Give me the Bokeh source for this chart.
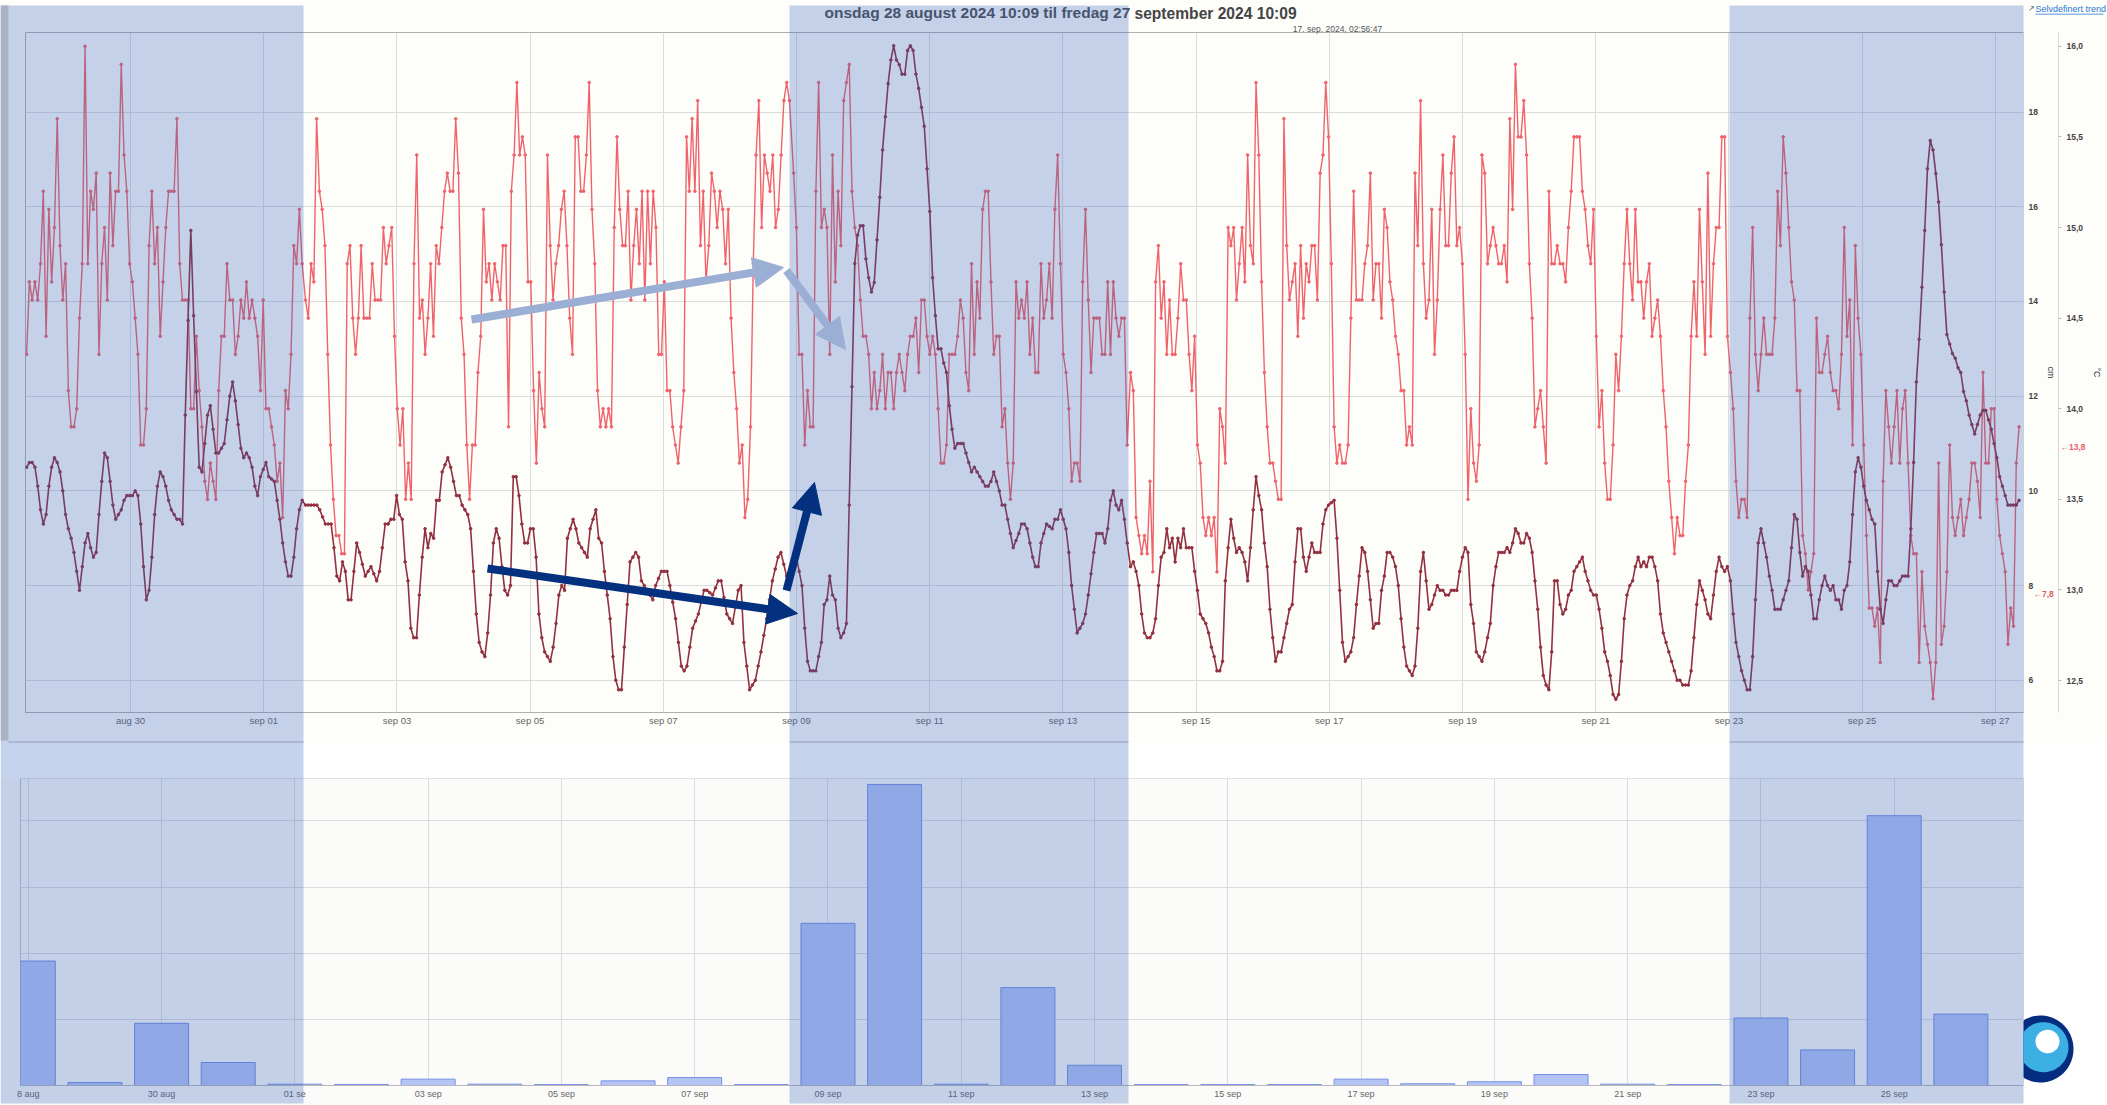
from datetime import datetime, timedelta
import numpy as np
from bokeh.core.properties import value
from bokeh.embed import file_html
from bokeh.models import Arrow, FixedTicker, LinearAxis, NormalHead, Range1d
from bokeh.plotting import figure
from bokeh.resources import INLINE

# ---- water temperature (deg C), hourly, per stretch of the record
TEMP_A = [14.3,14.7,14.6,14.7,14.6,14.8,15.2,14.4,15.1,14.7,15.0,15.6,14.9,14.6,14.8,14.1,13.9,13.9,14.0,14.5,14.8,16.0,14.8,15.2,15.1,15.3,14.3,14.8,15.0,14.6,15.3,14.9,15.2,15.2,15.9,15.4,15.2,14.8,14.7,14.5,14.3,13.8,13.8,14.0,14.9,15.2,14.8,15.0,14.4,14.7,15.0,15.2,15.2,15.2,15.6,14.8,14.6,14.6,14.6,14.0,14.0,14.4,14.1,13.9,13.6,13.5,13.7,13.6,13.5,14.1,14.4,14.4,14.8,14.6,14.6,14.3,14.4,14.6,14.5,14.7,14.5,14.6,14.5,14.4,14.1,14.6,14.0,14.0,13.9,13.8,13.6,13.7,13.4,14.1,14.0,14.3,14.9,14.8,15.1,14.8]
TEMP_B = [14.6,14.5,14.8,14.7,15.6,15.2,15.1,14.9,14.3,13.8,13.5,13.3,13.3,13.2,13.2,14.8,14.9,14.5,14.3,14.5,14.9,14.5,14.5,14.5,14.8,14.6,14.6,14.6,15.0,14.8,14.9,15.0,14.4,14.0,13.8,14.0,13.5,13.7,13.5,14.8,15.4,14.5,14.6,14.3,14.5,14.8,14.4,14.9,14.8,15.0,15.2,15.3,15.2,15.2,15.6,15.3,14.5,14.3,13.8,13.5,13.8,13.8,14.2,14.4,15.1,14.7,14.8,14.6,14.8,14.7,14.6,14.9,14.9,13.9,15.2,15.4,15.8,15.4,15.5,15.4,14.7,14.7,14.1,13.7,14.2,14.0,13.9,15.4,14.9,14.6,14.8,14.9,15.1,15.2,14.9,14.5,14.3,15.5,15.5,15.2,15.2,15.4,15.8,15.1,14.8,14.1,13.9,14.0,13.9,14.0,13.9,15.0,15.5,15.1,14.9,14.9,15.2,14.6,14.9,15.1,14.8,15.2,14.6,15.2,14.8,15.2,15.0,14.3,14.3,14.7,14.1,14.1,13.9,13.8,13.7,13.9,14.1,15.5,15.2,15.6,15.2,15.7,14.9,15.2,14.7,14.9,15.3,15.2,15.0,15.2,15.1,14.8,15.1,14.5,14.2,14.0,13.7,13.8,13.4,13.5,13.9,14.8,15.4,15.7,15.0,15.4,15.3,15.2,15.4,15.0,15.1,15.4,15.7,15.8,15.7]
TEMP_C = [15.3,15.0,14.3,14.3,13.8,14.1,13.9,13.9,15.2,15.8,15.0,15.1,15.0,14.3,15.4,14.7,15.2,14.9,15.7,15.8,15.9,15.2,15.0,14.9,14.6,14.4,14.4,14.3,14.0,14.2,14.0,14.1,14.3,14.0,14.2,14.2,14.0,14.2,14.3,14.2,14.1,14.3,14.4,14.4,14.5,14.2,14.6,14.6,14.4,14.3,14.4,14.3,14.0,13.7,13.7,13.8,14.3,14.3,14.3,14.4,14.6,14.5,14.2,14.1,14.8,14.3,14.7,14.5,15.1,15.2,15.2,14.7,14.3,14.4,14.4,13.9,14.0,13.7,13.5,13.7,14.7,14.5,14.6,14.5,14.7,14.3,14.5,14.2,14.2,14.8,14.5,14.6,14.8,14.5,15.1,15.4,14.8,14.3,14.2,14.0,13.6,13.7,13.7,13.6,14.7,15.1,14.6,14.2,14.5,14.5,14.5,14.3,14.3,14.7,14.3,14.7,14.5,14.4,14.5,14.5,13.8]
TEMP_D = [14.2,14.1,13.4,13.3,13.2,13.3,13.2,13.6,13.1,14.7,14.9,14.5,14.7,14.3,14.6,14.3,14.3,14.5,14.8,14.6,14.6,14.3,14.1,14.4,13.8,13.7,13.4,13.3,13.4,13.3,13.4,13.1,14.0,13.9,13.7,15.0,14.9,15.0,14.6,14.8,15.0,14.7,15.4,14.9,14.8,15.8,15.4,14.7,14.2,13.9,13.7,13.7,13.6,13.5,13.5,15.6,14.9,14.6,14.7,14.8,14.4,14.9,14.5,14.8,14.7,14.9,14.9,14.6,15.3,15.4,15.8,15.5,14.8,13.9,13.7,13.8,13.7,13.7,13.8,14.5,15.2,14.6,14.6,14.6,14.8,14.9,15.3,14.6,14.8,14.8,14.5,15.1,15.0,14.7,14.6,14.4,14.3,14.1,14.1,13.8,13.9,13.8,15.3,14.9,15.7,14.8,14.5,14.6,15.1,14.3,14.6,15.1,15.4,14.9,14.9,15.3,15.5,14.9,15.0,14.8,14.3,13.5,14.0,13.7,13.6,13.8,15.4,15.3,14.8,14.9,15.0,14.9,14.8,14.8,14.9,14.7,15.6,15.1,15.9,15.5,15.5,15.7,15.4,14.8,14.5,13.9,14.0,14.1,13.9,13.7,15.2,14.8,14.8,14.9,14.8,14.8,14.7,15.0,15.2,15.5,15.5,15.5,15.2,15.1,14.9,14.8,15.1,14.4,13.9,14.1,13.7,13.5,13.5,13.8,14.3,14.1,14.4,14.8,15.1,14.8,14.6,15.1,14.7,14.7,14.5,14.7,14.8,14.4,14.5,14.6,14.4,14.1,13.9,13.6,13.4,13.2,13.4,13.3,13.3,13.6,13.8,14.4,14.7,14.4,15.1,14.7,14.3,15.3,14.4,14.8,15.0,15.0,15.5,15.5,14.4]
TEMP_E = [14.2,14.0,13.6,13.4,13.5,13.5,13.4,14.5,15.0,14.3,14.1,14.3,14.5,14.3,14.3,14.3,14.5,15.2,14.9,15.5,15.3,15.0,14.7,14.6,14.1,14.1,13.3,13.2,13.0,13.1,13.2,14.5,14.2,14.2,14.3,14.4,14.2,14.1,14.1,14.0,14.3,15.0,14.4,14.6,13.8,14.9,14.5,14.3,13.8,13.3,12.9,12.9,12.8,12.9,12.6,13.6,14.1,13.9,13.7,13.9,14.1,13.7,14.0,14.1,13.7,13.3,13.2,13.2,12.6,13.1,12.8,12.7,12.6,12.4,12.6,13.7,12.7,12.8,13.1,13.8,13.4,13.3,13.4,13.5,13.3,13.4,13.5,13.7,13.7,13.6,13.4,14.2,13.7,13.7,14.0,14.0,13.5,13.3,13.2,13.1,12.7,12.9,12.8,13.7,13.9]

# ---- water level (cm), hourly, per stretch of the record
LEVEL_A = [10.5,10.6,10.6,10.5,10.1,9.6,9.3,9.5,10.1,10.5,10.7,10.6,10.4,10.0,9.5,9.2,9.0,8.7,8.3,7.9,8.4,8.9,9.1,8.8,8.6,8.7,9.5,10.2,10.8,10.7,10.2,9.7,9.4,9.5,9.6,9.8,9.9,9.9,9.9,10.0,9.9,9.3,8.4,7.7,7.9,8.6,9.5,10.1,10.4,10.3,10.1,9.8,9.6,9.5,9.4,9.4,9.3,11.6,13.6,15.5,13.7,12.1,10.5,10.4,11.0,11.6,11.8,11.3,10.8,10.8,10.9,11.0,11.5,12.0,12.3,11.9,11.4,10.9,10.7,10.8,10.7,10.5,10.1,9.9,10.3,10.45,10.6,10.3,10.25,10.2,9.8,9.4,8.9,8.5,8.2,8.2,8.6,9.2,9.6,9.8]
LEVEL_B = [9.7,9.7,9.7,9.7,9.7,9.6,9.45,9.3,9.3,9.3,8.8,8.2,8.1,8.5,8.3,7.7,7.7,8.3,8.9,8.7,8.45,8.2,8.3,8.4,8.25,8.1,8.3,8.8,9.3,9.3,9.4,9.4,9.9,9.5,9.4,8.5,8.1,7.1,6.9,6.9,7.8,8.6,9.2,8.8,9.1,9.0,9.8,9.8,10.4,10.55,10.7,10.5,10.2,9.9,9.9,9.7,9.6,9.5,9.2,8.3,7.4,6.8,6.6,6.5,7.0,7.8,8.9,9.2,9.0,8.4,7.9,7.8,8.0,10.3,10.3,9.9,9.3,8.9,8.9,9.2,9.2,8.6,7.4,6.9,6.6,6.5,6.4,6.7,7.2,7.8,8.0,7.9,9.0,9.2,9.4,9.2,8.9,8.8,8.7,8.6,9.2,9.4,9.6,9.0,8.9,8.3,7.8,7.3,6.5,6.0,5.8,5.8,6.7,7.6,8.5,8.6,8.7,8.6,8.1,8.0,7.9,7.8,7.7,8.0,8.15,8.3,8.3,8.3,8.0,7.65,7.3,6.8,6.3,6.2,6.3,6.7,7.1,7.25,7.4,7.65,7.9,7.9,7.85,7.8,7.95,8.1,8.1,7.75,7.4,7.3,7.2,7.55,7.9,8.0,6.8,6.3,5.8,5.9,6.0,6.3,6.6,6.95,7.3,7.7,8.1,8.35,8.6,8.7,8.45,8.2,8.2]
LEVEL_C = [8.6,8.6,8.3,8.0,7.1,6.4,6.2,6.2,6.2,6.5,6.8,7.6,7.7,8.2,7.8,7.7,7.1,6.9,7.0,7.2,9.7,12.2,14.8,15.4,15.6,15.6,14.9,14.5,14.2,14.4,15.3,16.2,17.2,17.9,18.6,19.1,19.4,19.1,19.0,18.8,18.8,19.3,19.4,19.3,18.8,18.5,18.1,17.7,16.8,15.9,14.5,13.7,13.0,13.0,12.7,12.5,11.8,11.3,10.9,11.0,11.0,11.0,10.8,10.6,10.4,10.5,10.4,10.3,10.2,10.1,10.1,10.2,10.4,10.2,10.0,9.7,9.7,9.4,9.1,8.8,8.95,9.1,9.3,9.3,9.2,8.9,8.6,8.4,8.4,8.9,9.1,9.3,9.25,9.2,9.4,9.4,9.6,9.4,9.2,8.7,8.0,7.5,7.0,7.1,7.2,7.4,7.8,8.25,8.7,9.1,9.1,9.1,8.9,9.2,9.8,10.0,9.7,9.6,9.8,9.4,8.9]
LEVEL_D = [8.4,8.5,8.3,8.0,7.4,7.0,6.9,6.9,7.0,7.3,8.0,8.6,8.7,9.2,8.8,9.0,8.5,9.0,8.8,9.2,8.8,8.8,8.8,8.3,7.9,7.4,7.3,7.2,7.0,6.7,6.5,6.2,6.2,6.4,8.1,8.8,9.4,9.0,8.7,8.8,8.7,8.5,8.1,8.8,9.6,10.3,9.9,9.6,8.9,8.4,7.5,6.9,6.4,6.6,6.6,6.9,7.2,7.5,7.6,8.5,9.2,9.2,8.6,8.3,8.6,8.9,8.7,8.7,8.7,9.3,9.6,9.7,9.75,9.8,9.0,7.9,6.8,6.4,6.5,6.6,6.9,7.6,8.2,8.8,8.7,8.3,7.7,7.1,7.2,7.2,7.9,8.2,8.7,8.7,8.6,8.4,8.0,7.3,6.7,6.3,6.2,6.1,6.3,7.1,8.3,8.7,8.1,7.5,7.6,7.8,8.0,7.9,7.9,7.8,7.8,7.9,7.9,7.9,8.3,8.6,8.8,8.7,7.6,7.2,6.6,6.5,6.4,6.6,6.9,7.2,8.0,8.4,8.7,8.7,8.7,8.8,8.7,8.9,9.2,9.1,8.9,8.9,9.1,9.0,8.7,8.1,7.5,6.7,6.1,5.9,5.8,6.6,8.1,8.1,7.6,7.4,7.5,7.8,7.9,8.3,8.4,8.5,8.6,8.3,8.1,7.9,7.8,7.8,7.5,7.1,6.6,6.4,6.1,5.7,5.6,5.7,6.4,7.3,7.8,8.0,8.1,8.4,8.6,8.4,8.5,8.4,8.6,8.6,8.4,8.1,7.4,7.0,6.8,6.6,6.4,6.2,6.0,6.0,5.9,5.9,5.9,6.2,6.9,7.6,8.1,7.9,7.7,7.4,7.3,7.8,8.3,8.6,8.4,8.3,8.4]
LEVEL_E = [8.1,7.4,6.8,6.5,6.2,6.0,5.8,5.8,6.5,7.7,8.9,9.2,8.9,8.6,8.2,7.9,7.5,7.5,7.5,7.7,7.9,8.1,8.8,9.5,9.4,8.7,8.2,8.4,8.3,7.8,7.3,7.3,7.7,8.0,8.2,8.0,7.9,8.0,7.7,7.7,7.5,7.9,8.0,8.5,9.5,10.4,10.7,10.5,10.1,9.8,9.6,9.4,9.3,8.3,7.5,7.2,7.7,8.1,8.1,8.0,8.0,8.1,8.2,8.2,8.2,9.2,10.6,12.3,13.2,14.3,15.5,16.8,17.4,17.2,16.7,16.1,15.2,14.2,13.3,13.1,12.9,12.8,12.6,12.5,12.1,11.9,11.6,11.4,11.2,11.4,11.6,11.7,11.7,11.5,11.3,11.0,10.7,10.3,10.1,9.9,9.7,9.7,9.7,9.7,9.8]

# Hours after the start of the window at which each stretch begins and ends
SPANS = [(0.4, 99.7), (100.9, 275.3), (276.8, 397.0), (398.2, 613.3), (614.4, 718.4)]

# ---- daily rain (bars)
RAIN_FIRST_DAY = datetime(2024, 8, 28)
RAIN = [9.41,0.23,4.7,1.74,0.1,0.08,0.48,0.1,0.07,0.35,0.6,0.07,12.26,22.76,0.1,7.4,1.53,0.07,0.07,0.07,0.48,0.13,0.28,0.83,0.1,0.07,5.1,2.69,20.4,5.4]

CM_TICKS = [6, 8, 10, 12, 14, 16, 18]
TEMP_TICKS = [12.5, 13.0, 13.5, 14.0, 14.5, 15.0, 15.5, 16.0]
RAIN_TICKS = [0, 5, 10, 15, 20]
TOP_DAYS = [datetime(2024, 8, 30) + timedelta(days=2 * i) for i in range(15)]
BOTTOM_DAYS = [datetime(2024, 8, 28) + timedelta(days=2 * i) for i in range(15)]
MONTHS = {8: "aug", 9: "sep"}
TITLE_1 = "onsdag 28 august 2024 10:09 til fredag 27"
TITLE_2 = "september 2024 10:09"
STAMP = "17. sep. 2024, 02:56:47"
LINK = "Selvdefinert trend"

# ---- styling
FONT = "Liberation Sans"
RED = "#f0636a"
DARK = "#933040"
GRID = "#dcdcdc"
BAND = "#3462b9"
W = 2107
H = 1105
TOP_H = 745
BOT_H = H - TOP_H
BANDS = [(0, 303), (789, 1128), (1729, 2023)]


def ms(d):
    return int((d - datetime(1970, 1, 1)).total_seconds() * 1000)


# ============================ top chart ============================
start = datetime(2024, 8, 28, 10, 9)
end = datetime(2024, 9, 27, 10, 9)
top = figure(width=W, height=TOP_H, x_axis_type="datetime", y_axis_location="right",
             x_range=Range1d(ms(start), ms(end)), y_range=Range1d(5.32, 19.68),
             output_backend="svg", toolbar_location=None,
             min_border_left=25, min_border_right=84, min_border_top=32, min_border_bottom=33,
             background_fill_color="#fdfdfa", border_fill_color="#fdfdfa",
             outline_line_color="#b0b0b0")
top.extra_y_ranges["temp"] = Range1d(12.324, 16.076)

day_ms = [ms(d) for d in TOP_DAYS]
xa = top.xaxis[0]
xa.ticker = FixedTicker(ticks=day_ms)
xa.major_label_overrides = {ms(d): f"{MONTHS[d.month]} {d.day:02d}" for d in TOP_DAYS}
xa.major_label_text_font = FONT
xa.major_label_text_font_size = "9.5px"
xa.major_label_text_color = "#666666"
xa.major_label_standoff = 2
xa.major_tick_out = 0
xa.major_tick_in = 0
xa.minor_tick_out = 0
xa.major_tick_line_color = None
xa.minor_tick_line_color = None
xa.axis_line_color = "#b0b0b0"
top.xgrid[0].ticker = FixedTicker(ticks=day_ms)
top.xgrid[0].grid_line_color = GRID
top.ygrid[0].grid_line_color = GRID

ya = top.yaxis[0]
ya.ticker = FixedTicker(ticks=CM_TICKS)
ya.axis_label = "cm"
ya.major_label_text_font = FONT
ya.major_label_text_font_size = "8.5px"
ya.major_label_text_font_style = "bold"
ya.major_label_text_color = "#444444"
ya.major_tick_out = 0
ya.major_tick_in = 0
ya.minor_tick_out = 0
ya.major_tick_line_color = None
ya.minor_tick_line_color = None
ya.axis_line_color = "#e2e2e2"
ya.major_label_standoff = 5
ya.axis_label_text_font = FONT
ya.axis_label_text_font_size = "9px"
ya.axis_label_text_font_style = "normal"
ya.axis_label_text_color = "#333333"
ya.axis_label_standoff = 5

ta = LinearAxis(y_range_name="temp", ticker=FixedTicker(ticks=TEMP_TICKS), axis_label="°C",
                major_label_overrides={v: f"{v:.1f}".replace(".", ",") for v in TEMP_TICKS},
                major_label_text_font=FONT, major_label_text_font_size="8.5px",
                major_label_text_font_style="bold", major_label_text_color="#444444",
                major_tick_in=0, major_tick_out=3, minor_tick_out=0, major_tick_line_color="#bbbbbb",
                minor_tick_line_color=None, axis_line_color="#d8d8d8", major_label_standoff=5,
                axis_label_text_font=FONT, axis_label_text_font_size="9px",
                axis_label_text_font_style="normal", axis_label_text_color="#333333",
                axis_label_standoff=6)
top.add_layout(ta, "right")


def stretch_times(lists):
    out = []
    for vals, (a, b) in zip(lists, SPANS):
        hours = np.linspace(a, b, len(vals))
        out.extend(ms(start) + hours * 3600000.0)
    return out


temp_x = stretch_times([TEMP_A, TEMP_B, TEMP_C, TEMP_D, TEMP_E])
temp_y = TEMP_A + TEMP_B + TEMP_C + TEMP_D + TEMP_E
level_x = stretch_times([LEVEL_A, LEVEL_B, LEVEL_C, LEVEL_D, LEVEL_E])
level_y = LEVEL_A + LEVEL_B + LEVEL_C + LEVEL_D + LEVEL_E

top.line(temp_x, temp_y, y_range_name="temp", line_color=RED, line_width=1.4)
top.scatter(temp_x, temp_y, y_range_name="temp", size=2.6, color=RED)
top.line(level_x, level_y, line_color=DARK, line_width=1.6)
top.scatter(level_x, level_y, size=2.6, color=DARK)

# ============================ bottom chart ============================
x0_ms = ms(datetime(2024, 8, 30)) - 2.117 * 86400000
x1_ms = ms(datetime(2024, 8, 30)) + 27.94 * 86400000
bot = figure(width=W, height=BOT_H, x_axis_type="datetime",
             x_range=Range1d(x0_ms, x1_ms), y_range=Range1d(0, 23.21),
             output_backend="svg", toolbar_location=None,
             min_border_left=20, min_border_right=84,
             min_border_top=778 - TOP_H, min_border_bottom=1105 - 1085,
             background_fill_color="#fbfbf9", border_fill_color="#fbfbf9",
             outline_line_color="#c4c4c4",
             styles={"position": "absolute", "left": "0", "top": f"{TOP_H}px"})

bday_ms = [ms(d) for d in BOTTOM_DAYS]
labels = {ms(d): f"{d.day:02d} {MONTHS[d.month]}" for d in BOTTOM_DAYS}
labels[ms(BOTTOM_DAYS[0])] = "8 aug"
labels[ms(BOTTOM_DAYS[2])] = "01 se"
bx = bot.xaxis[0]
bx.ticker = FixedTicker(ticks=bday_ms)
bx.major_label_overrides = labels
bx.major_label_text_font = FONT
bx.major_label_text_font_size = "9px"
bx.major_label_text_color = "#666666"
bx.major_label_standoff = 3
bx.major_tick_out = 0
bx.major_tick_in = 0
bx.minor_tick_out = 0
bx.major_tick_line_color = None
bx.minor_tick_line_color = None
bx.axis_line_color = "#b8b8b8"
bot.xgrid[0].ticker = FixedTicker(ticks=bday_ms)
bot.xgrid[0].grid_line_color = GRID
bot.yaxis[0].ticker = FixedTicker(ticks=RAIN_TICKS)
bot.yaxis[0].visible = False
bot.ygrid[0].grid_line_color = GRID

rain_x = [ms(RAIN_FIRST_DAY + timedelta(days=i)) for i in range(len(RAIN))]
bot.vbar(x=rain_x, top=RAIN, bottom=0, width=0.81 * 86400000,
         fill_color="#b4c4f6", line_color="#7490e3", line_width=1)

# ============================ page-level layer ============================
# A transparent figure as large as the page, measured in page pixels, laid over
# the two charts: it carries what lies outside their frames.
over = figure(width=W, height=H, x_range=Range1d(0, W), y_range=Range1d(H, 0),
              output_backend="svg",
              toolbar_location=None, min_border=0, outline_line_color=None,
              background_fill_alpha=0, border_fill_alpha=0,
              styles={"position": "absolute", "left": "0", "top": "0", "z-index": "5",
                      "pointer-events": "none"})
over.axis.visible = False
over.grid.visible = False

# white strip between the charts and right of the lower chart
over.quad(left=0, right=W, top=742, bottom=778, color="#ffffff", line_alpha=0)
over.quad(left=2023, right=W, top=778, bottom=H, color="#ffffff", line_alpha=0)


def page_text(txt, x, y, size, style, color, align):
    over.text([x], [y], text=[txt], text_font=value(FONT), text_font_size=value(size),
              text_font_style=style, text_color=color, text_align=align, text_baseline="middle")


page_text(TITLE_1, 824, 12, "15.5px", "bold", "#505050", "left")
page_text(TITLE_2, 1134, 13, "15.6px", "bold", "#444444", "left")
page_text(STAMP, 1337, 28, "8.5px", "normal", "#555555", "center")
page_text(LINK, 2035, 8.5, "9px", "normal", "#1f78d8", "left")
page_text("↗", 2027, 8, "8px", "normal", "#666666", "left")
page_text("←7,8", 2033, 593, "8.5px", "bold", "#d9606a", "left")
page_text("←13,8", 2060, 446, "8.5px", "bold", "#e8636b", "left")
over.quad(left=2035, right=2103, top=13.2, bottom=14, color="#1f78d8", line_alpha=0)


def logo_part(cx, cy, rx, ry, color):
    a = np.linspace(0, 2 * np.pi, 80)
    over.patch(np.maximum(cx + rx * np.cos(a), 2023), cy + ry * np.sin(a), color=color, line_alpha=0)


logo_part(2040, 1048.5, 33, 33.5, "#042c7f")
logo_part(2043, 1046.7, 25, 25, "#3cb0e3")
logo_part(2047, 1041, 12, 11.7, "#ffffff")

over.quad(left=[a for a, _ in BANDS], right=[b for _, b in BANDS], top=5, bottom=1103,
          fill_color=BAND, fill_alpha=0.28, line_alpha=0)
over.quad(left=0, right=8, top=5, bottom=740, color="#a9b3c2", line_alpha=0)
over.quad(left=[max(a, 8) for a, _ in BANDS], right=[b for _, b in BANDS], top=741, bottom=742,
          color="#8f9dbb", line_alpha=0)

for x0, y0, x1, y1, col, w, hs in [
    (471, 319, 783, 267, "#9baed3", 8, 30),
    (786, 270, 845, 349, "#9baed3", 8, 30),
    (487, 568, 797, 613, "#03317f", 8, 30),
    (786, 590, 814, 482, "#03317f", 8, 30),
]:
    over.add_layout(Arrow(end=NormalHead(size=hs, fill_color=col, line_color=col),
                          x_start=x0, y_start=y0, x_end=x1, y_end=y1,
                          line_color=col, line_width=w))

open("out.html", "w").write(file_html([top, bot, over], INLINE))
